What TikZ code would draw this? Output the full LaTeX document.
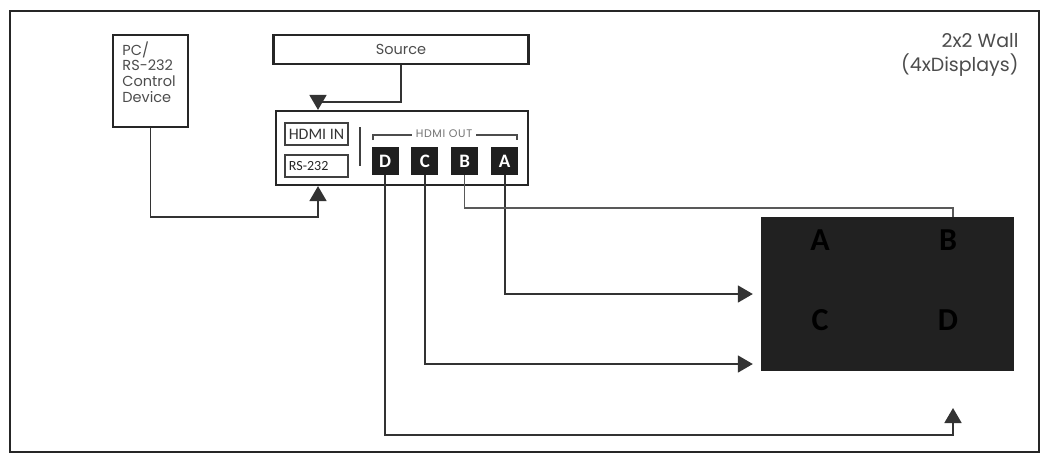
\documentclass[tikz,border=0pt]{standalone}
\usepackage{fontspec}
\setmainfont{Poppins}
\newfontfamily\calibri{Carlito}
\usetikzlibrary{arrows.meta, positioning}

\begin{document}
\begin{tikzpicture}[x=1pt, y=-1pt,
    >={Triangle[length=15pt, width=17pt]},
    box/.style={rectangle, draw=black!85, line width=2.2pt, inner sep=0pt},
    inbox/.style={rectangle, draw=black!75, line width=1.1pt, inner sep=0pt,
                  minimum width=63pt, minimum height=22pt},
    port/.style={rectangle, fill=black!88, minimum width=27pt, minimum height=28pt,
                 inner sep=0pt, text=white, font=\calibri\bfseries\fontsize{19}{19}\selectfont},
    cell/.style={font=\calibri\bfseries\fontsize{32}{32}\selectfont, text=black},
    wire/.style={draw=black!80, line width=1.8pt},
    arr/.style={wire, ->},
    lbl/.style={font=\fontsize{14.5}{15.7}\selectfont, text=black!70}
]
\useasboundingbox (0,0) rectangle (1046,456);
\draw[black!85, line width=2pt] (10,11) rectangle (1039,452);

% boxes
\node[box, minimum width=75pt, minimum height=92pt] (pc) at (150.5,81) {};
\node[lbl, align=left, anchor=north west] (pctext) at ([shift={(7,4)}]pc.north west)
    {PC/\\RS-232\\Control\\Device};
\node[box, minimum width=255pt, minimum height=29pt, lbl] (source) at (401,49.5) {Source};
\node[box, minimum width=252pt, minimum height=74pt] (split) at (402,148) {};

\node[inbox, font=\calibri\fontsize{16}{16}\selectfont, text=black!80] (hdmiin) at (316.5,134) {HDMI IN};
\node[inbox] (rs) at (316.5,166) {};
\node[font=\calibri\fontsize{14}{14}\selectfont, text=black!85, anchor=west] (rstext)
    at ([xshift=1pt]rs.west) {RS-232};
\draw[black!75, line width=1.2pt] (360,127) -- (360,166);

% outputs
\node[port] (pD) at (385,161) {D};
\node[port, right=12.5pt of pD] (pC) {C};
\node[port, right=12.5pt of pC] (pB) {B};
\node[port, right=12.5pt of pB] (pA) {A};
\draw[black!70, line width=1.2pt] (373,140) -- (373,135) -- (517,135) -- (517,140);
\node[fill=white, inner sep=4pt, font=\fontsize{11}{11}\selectfont\addfontfeature{LetterSpace=6},
      text=black!55] (outlbl) at (444,134) {HDMI OUT};

% video wall
\node[rectangle, fill=black!87, minimum width=253pt, minimum height=154pt, inner sep=0pt] (wall) at (887.5,294) {};
\node[cell] (wA) at (820,240) {A};
\node[cell] (wB) at (948,240) {B};
\node[cell] (wC) at (820,320) {C};
\node[cell] (wD) at (948,320) {D};
\node[font=\fontsize{19}{24}\selectfont, text=black!70, align=right, anchor=north east] (walllbl)
    at (1022,30) {2x2 Wall\\(4xDisplays)};

\coordinate (bdrop) at (953,208);
\coordinate (dtip) at (953,408);

% connectors
\draw[arr] (source.south) -- ++(0,37) -| (split.north -| 318,0);
\draw[arr] (pc.south) -- (pc.south |- 0,217) -| (split.south -| 318,0);
\draw[arr, shorten >=8pt] (pA.south) |- (wall.west |- 0,294);
\draw[arr, shorten >=8pt] (pC.south) |- (wall.west |- 0,364);
\draw[arr] (pD.south) |- (dtip |- 0,435) -- (dtip);
\draw[wire, line width=1.2pt, draw=black!65] (pB.south) |- (bdrop) -- (wall.north -| bdrop);
\end{tikzpicture}
\end{document}
